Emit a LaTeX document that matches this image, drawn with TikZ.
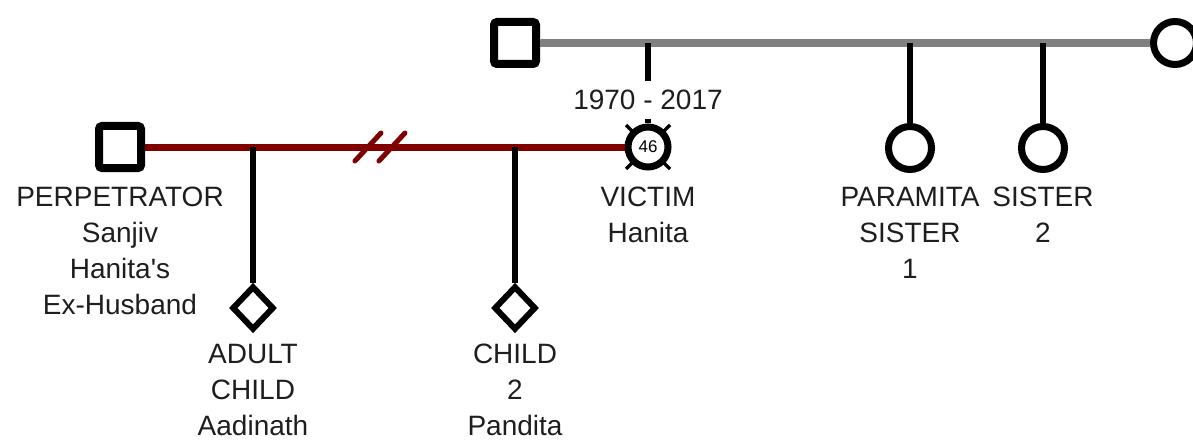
\documentclass[tikz,border=0pt]{standalone}
\usepackage{fontspec}
\setmainfont{Liberation Sans}
\usetikzlibrary{calc,shapes.geometric,positioning}
\definecolor{maroon}{RGB}{128,0,0}
\definecolor{ink}{RGB}{30,30,30}

\begin{document}
\begin{tikzpicture}[x=1pt,y=-1pt,
male/.style={draw,line width=8pt,rounded corners=3pt,minimum size=42pt,inner sep=0,fill=white},
female/.style={draw,circle,line width=7pt,minimum size=43pt,inner sep=0,fill=white},
unknown/.style={draw,diamond,line width=6pt,minimum width=42pt,minimum height=44pt,inner sep=0,fill=white},
dead/.style={draw,circle,line width=7pt,minimum size=40pt,inner sep=0,fill=white,font=\fontsize{17}{17}\selectfont},
lab/.style={font=\fontsize{28}{36}\selectfont,align=center,inner sep=0,text=ink},
date/.style={font=\fontsize{28}{30}\selectfont,inner xsep=2pt,inner ysep=9pt,text=ink},
marriage/.style={line width=7.5pt,draw=black!50},
union/.style={line width=7pt,draw=maroon},
kid/.style={line width=5.5pt}]
	\useasboundingbox (0,0) rectangle (1193,441);

	% parents of the victim
	\node[male] at (515,43) (f6) {};
	\node[female] at (1175,43) (f7) {};
	\draw[marriage] (f6) -- (f7);

	% victim, with the deceased cross
	\coordinate (v) at (648,147);
	\draw[line width=3.5pt] ($(v)+(-22,-22)$) -- ($(v)+(22,22)$);
	\draw[line width=3.5pt] ($(v)+(22,-22)$) -- ($(v)+(-22,22)$);
	\node[dead] at (v) (f5) {46};
	\node[date] at (648,100) (d5) {1970 - 2017};
	\draw[kid] (f5 |- f6) -- (d5);
	\draw[kid] (d5) -- (f5);

	% sisters
	\node[female] at (910,148) (s1) {};
	\node[female] at (1043,148) (s2) {};
	\draw[kid] (s1 |- f6) -- (s1);
	\draw[kid] (s2 |- f6) -- (s2);

	% perpetrator and the broken union
	\node[male] at (120,147) (f1) {};
	\draw[union] (f1) -- node[pos=0.49] (brk) {} (f5);
	\draw[union,line width=5pt,line cap=round] ($(brk)+(-25,14)$) -- +(26,-28);
	\draw[union,line width=5pt,line cap=round] ($(brk)+(-1,14)$) -- +(26,-28);

	% children
	\node[unknown] at (253,308) (c1) {};
	\node[unknown] at (515,308) (c2) {};
	\draw[kid] (c1 |- f1) -- (c1);
	\draw[kid] (c2 |- f1) -- (c2);

	\node[lab,below=15pt of f1] (l1) {PERPETRATOR\\Sanjiv\\Hanita\textquotesingle s\\Ex-Husband};
	\node[lab,below=16.5pt of f5] (l5) {VICTIM\\Hanita};
	\node[lab,below=14pt of s1] (ls1) {PARAMITA\\SISTER\\1};
	\node[lab,below=14pt of s2] (ls2) {SISTER\\2};
	\node[lab,below=11pt of c1] (lc1) {ADULT\\CHILD\\Aadinath};
	\node[lab,below=11pt of c2] (lc2) {CHILD\\2\\Pandita};
\end{tikzpicture}
\end{document}
